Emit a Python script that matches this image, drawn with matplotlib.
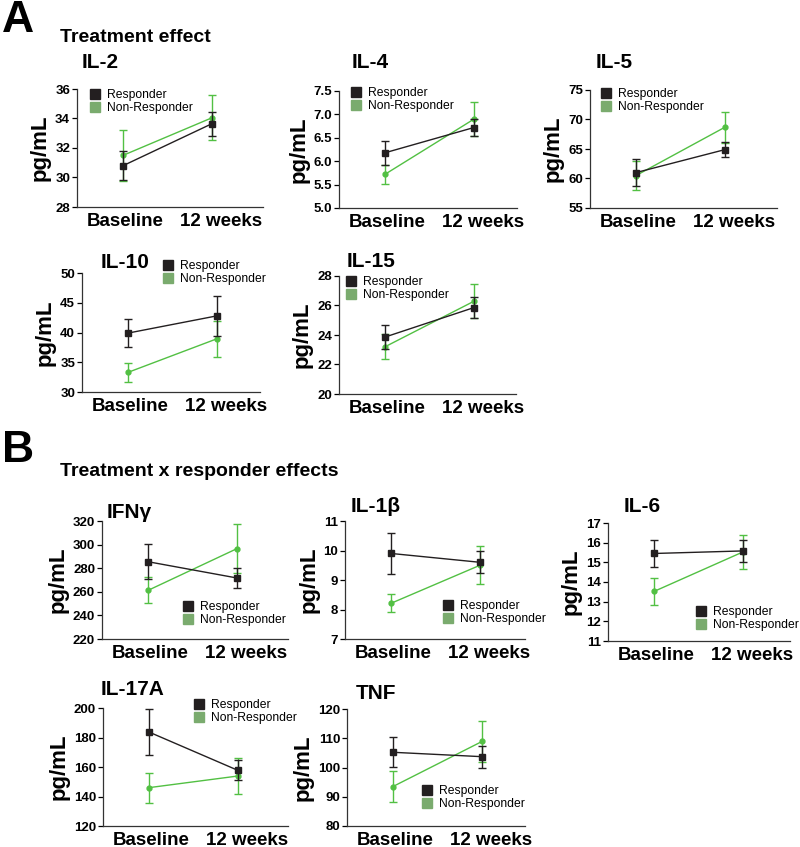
import matplotlib
matplotlib.use('Agg')
import matplotlib.pyplot as plt
from matplotlib.lines import Line2D
from matplotlib.ticker import FormatStrFormatter

plt.rcParams['font.family'] = ['Liberation Sans', 'DejaVu Sans']

# Data (mean, error bar half-length)
timepoints = ['Baseline', '12 weeks']

il2_resp = [30.8, 33.65]
il2_resp_err = [1.0, 0.82]
il2_non = [31.5, 34.05]
il2_non_err = [1.75, 1.53]

il4_resp = [6.18, 6.72]
il4_resp_err = [0.26, 0.18]
il4_non = [5.72, 6.9]
il4_non_err = [0.2, 0.37]

il5_resp = [61.0, 64.9]
il5_resp_err = [2.35, 1.25]
il5_non = [60.5, 68.7]
il5_non_err = [2.5, 2.6]

il10_resp = [39.9, 42.8]
il10_resp_err = [2.4, 3.4]
il10_non = [33.3, 38.95]
il10_non_err = [1.55, 3.0]

il15_resp = [23.86, 25.86]
il15_resp_err = [0.8, 0.7]
il15_non = [23.2, 26.29]
il15_non_err = [0.85, 1.15]

ifng_resp = [285.5, 271.7]
ifng_resp_err = [15.0, 8.3]
ifng_non = [261.2, 296.6]
ifng_non_err = [11.0, 21.0]

il1b_resp = [9.9, 9.6]
il1b_resp_err = [0.7, 0.37]
il1b_non = [8.21, 9.5]
il1b_non_err = [0.3, 0.65]

il6_resp = [15.45, 15.58]
il6_resp_err = [0.7, 0.58]
il6_non = [13.52, 15.53]
il6_non_err = [0.69, 0.85]

il17a_resp = [183.7, 157.7]
il17a_resp_err = [15.8, 6.8]
il17a_non = [146.0, 153.9]
il17a_non_err = [10.2, 12.0]

tnf_resp = [105.2, 103.7]
tnf_resp_err = [5.1, 3.7]
tnf_non = [93.5, 108.9]
tnf_non_err = [5.3, 7.0]

W, H = 800, 847
BLACK = '#231f20'
GREEN_LINE = '#52c043'
GREEN_PATCH = '#7aab6e'

fig = plt.figure(figsize=(W / 100, H / 100), dpi=100)


def fx(x):
    return x / W


def fy(y):
    return 1 - y / H


def panel(title, resp, resp_err, non, non_err, yticks, box, title_xy, legend_xy, fmt=None):
    left, top, bottom, right = box
    ax = fig.add_axes([fx(left), fy(bottom), (right - left) / W, (bottom - top) / H])
    x = [0, 1]
    ax.errorbar(x, non, yerr=non_err, color=GREEN_LINE, marker='o', markersize=3.5,
                lw=1.0, elinewidth=1.0, capsize=3, capthick=1.0, zorder=2)
    ax.errorbar(x, resp, yerr=resp_err, color=BLACK, marker='s', markersize=4.5,
                lw=1.0, elinewidth=1.0, capsize=3, capthick=1.0, zorder=3)
    spacing = 89.0
    xl = -46 / spacing
    ax.set_xlim(xl, xl + (right - left) / spacing)
    ax.set_ylim(yticks[0], yticks[-1])
    ax.set_yticks(yticks)
    if fmt:
        ax.yaxis.set_major_formatter(FormatStrFormatter(fmt))
    ax.set_xticks([0.02, 1.1])
    ax.set_xticklabels(timepoints, fontsize=13.5, fontweight='bold')
    ax.tick_params(axis='x', length=0, pad=4)
    ax.tick_params(axis='y', length=3.5, width=0.9, pad=1.5, labelsize=9.5)
    for lab in ax.get_yticklabels():
        lab.set_fontweight('bold')
    for s in ['top', 'right']:
        ax.spines[s].set_visible(False)
    for s in ['left', 'bottom']:
        ax.spines[s].set_linewidth(0.9)
        ax.spines[s].set_color('#333333')
    ax.set_ylabel('pg/mL', fontsize=16, fontweight='bold', labelpad=3)
    fig.text(fx(title_xy[0]), fy(title_xy[1]), title, fontsize=15, fontweight='bold',
             ha='left', va='center')
    handles = [Line2D([], [], ls='none', marker='s', markersize=6.5, color=BLACK),
               Line2D([], [], ls='none', marker='s', markersize=6.5, color=GREEN_PATCH)]
    ax.legend(handles, ['Responder', 'Non-Responder'], loc='upper left',
              bbox_to_anchor=(fx(legend_xy[0]), fy(legend_xy[1])),
              bbox_transform=fig.transFigure, frameon=False, fontsize=8.7,
              handlelength=0.7, handletextpad=0.65, labelspacing=0.12,
              borderpad=0, borderaxespad=0)
    return ax


# Panel A
fig.text(fx(2), fy(20), 'A', fontsize=32, fontweight='bold', ha='left', va='center')
fig.text(fx(60), fy(38), 'Treatment effect', fontsize=14, fontweight='bold', ha='left', va='center')

panel('IL-2', il2_resp, il2_resp_err, il2_non, il2_non_err, [28, 30, 32, 34, 36],
      (77, 89, 207, 263), (82, 63), (91, 89))
panel('IL-4', il4_resp, il4_resp_err, il4_non, il4_non_err, [5.0, 5.5, 6.0, 6.5, 7.0, 7.5],
      (339, 91, 208, 517), (352, 62), (352, 87), fmt='%.1f')
panel('IL-5', il5_resp, il5_resp_err, il5_non, il5_non_err, [55, 60, 65, 70, 75],
      (590, 90, 208, 777), (596, 62), (602, 88))
panel('IL-10', il10_resp, il10_resp_err, il10_non, il10_non_err, [30, 35, 40, 45, 50],
      (82, 273, 392, 260), (101, 262), (164, 260))
panel('IL-15', il15_resp, il15_resp_err, il15_non, il15_non_err, [20, 22, 24, 26, 28],
      (339, 276, 394, 516), (347, 261), (347, 276))

# Panel B
fig.text(fx(2), fy(450), 'B', fontsize=32, fontweight='bold', ha='left', va='center')
fig.text(fx(60), fy(471), 'Treatment x responder effects', fontsize=14, fontweight='bold',
         ha='left', va='center')

panel('IFNγ', ifng_resp, ifng_resp_err, ifng_non, ifng_non_err, [220, 240, 260, 280, 300, 320],
      (102, 521, 639, 288), (107, 512), (184, 601))
panel('IL-1β', il1b_resp, il1b_resp_err, il1b_non, il1b_non_err, [7, 8, 9, 10, 11],
      (345, 521, 639, 525), (351, 507), (444, 600))
panel('IL-6', il6_resp, il6_resp_err, il6_non, il6_non_err, [11, 12, 13, 14, 15, 16, 17],
      (608, 523, 641, 790), (624, 507), (697, 606))
panel('IL-17A', il17a_resp, il17a_resp_err, il17a_non, il17a_non_err, [120, 140, 160, 180, 200],
      (103, 708, 826, 288), (101, 689), (195, 699))
panel('TNF', tnf_resp, tnf_resp_err, tnf_non, tnf_non_err, [80, 90, 100, 110, 120],
      (347, 709, 826, 525), (356, 693), (423, 785))

fig.savefig('out.png', dpi=100)
